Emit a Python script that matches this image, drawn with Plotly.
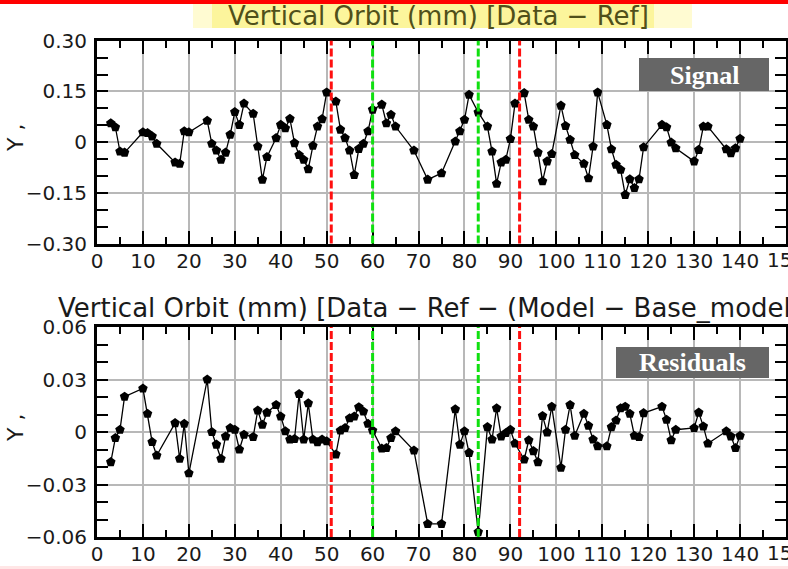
import plotly.graph_objects as go

W, H = 788, 569

bpm = [3, 4, 5, 6, 10, 11, 12, 13, 17, 18, 19, 20, 24, 25, 26, 27, 28, 29, 30, 31, 32,
       34, 35, 36, 37, 39, 40, 41, 42, 43, 44, 45, 46, 47, 48, 49, 50,
       52, 53, 54, 55, 56, 57, 58, 59, 60, 62, 63, 64, 65, 69,
       72, 75, 78, 79, 80, 81, 83, 85, 86, 87, 88, 89, 90, 91,
       93, 94, 95, 96, 97, 98, 99, 101, 102, 103, 104, 106, 107, 108, 109,
       111, 112, 113, 114, 115, 116, 117, 118, 119, 123, 124, 125, 126,
       130, 131, 132, 133, 137, 138, 139, 140]

signal = [0.056, 0.044, -0.028, -0.031, 0.029, 0.027, 0.017, -0.005,
          -0.060, -0.064, 0.032, 0.029,
          0.063, -0.005, -0.025, -0.052, -0.031, 0.022, 0.089, 0.051, 0.114,
          0.084, -0.013, -0.111, -0.044,
          0.012, 0.051, 0.041, 0.069, -0.003, -0.038, -0.052, -0.080, -0.011, 0.046, 0.068, 0.147,
          0.120, 0.037, 0.012, -0.025, -0.097, -0.020, -0.005, 0.032, 0.096,
          0.111, 0.056, 0.081, 0.046, -0.025,
          -0.111, -0.092, 0.002, 0.032, 0.066, 0.140,
          0.088, 0.046, -0.028, -0.123, -0.060, -0.052, 0.009, 0.114,
          0.145, 0.066, 0.046, -0.031, -0.116, -0.057, -0.035,
          0.108, 0.048, 0.007, -0.038,
          -0.064, -0.107, -0.013, 0.147,
          0.051, -0.021, -0.067, -0.082, -0.156, -0.110, -0.136, -0.110, -0.015,
          0.051, 0.044, -0.001, -0.018,
          -0.057, -0.023, 0.046, 0.046,
          -0.021, -0.033, -0.018, 0.010]

residuals = [-0.0172, -0.0034, 0.0013, 0.0202, 0.0249, 0.0104, -0.0057, -0.0134,
             0.0051, -0.0153, 0.0047, -0.0236,
             0.0300, 0.0, -0.0072, -0.0153, -0.0025, 0.0023, 0.0013, -0.0100, -0.0015,
             -0.0028, 0.0123, 0.0042, 0.0111,
             0.0155, 0.0089, 0.0004, -0.0043, -0.0040, 0.0217, -0.0043, 0.0164, -0.0043, -0.0058, -0.0043, -0.0053,
             -0.0128, 0.0009, 0.0023, 0.0079, 0.0089, 0.0142, 0.0117, 0.0047, 0.0009,
             -0.0094, -0.0091, -0.0034, 0.0004, -0.0106,
             -0.0525, -0.0525, 0.0130, -0.0072, 0.0004, -0.0119,
             -0.0572, 0.0028, -0.0043, 0.0136, -0.0025, -0.0006, 0.0013, -0.0066,
             -0.0157, -0.0047, -0.0109, -0.0172, 0.0092, -0.0002, 0.0145,
             -0.0204, 0.0013, 0.0155, -0.0021,
             0.0104, 0.0036, -0.0043, -0.0081,
             -0.0081, 0.0028, 0.0066, 0.0136, 0.0145, 0.0104, -0.0021, -0.0028, 0.0108,
             0.0145, 0.0070, -0.0047, 0.0013,
             0.0023, 0.0111, 0.0032, -0.0066,
             0.0004, -0.0025, -0.0091, -0.0021]

red_lines = [51, 92]
green_lines = [60, 83]

x_ticks = list(range(0, 151, 10))
x_tick_text = [str(v) for v in x_ticks]
top_y_ticks = [-0.30, -0.15, 0, 0.15, 0.30]
top_y_text = ["\u22120.30", "\u22120.15", "0", "0.15", "0.30"]
bot_y_ticks = [-0.06, -0.03, 0, 0.03, 0.06]
bot_y_text = ["\u22120.06", "\u22120.03", "0", "0.03", "0.06"]

title_top = "Vertical Orbit (mm) [Data \u2212 Ref]"
title_bot = "Vertical Orbit (mm) [Data \u2212 Ref \u2212 (Model \u2212 Base_model)]"


def px(x):
    return x / W


def py(y):
    return 1 - y / H


TICKFONT = dict(family="DejaVu Sans", size=20, color="#1a1a1a")

fig = go.Figure()
for ax, vals in (("", signal), ("2", residuals)):
    fig.add_trace(go.Scatter(
        x=bpm, y=vals, mode="lines+markers",
        xaxis="x" + ax, yaxis="y" + ax,
        line=dict(color="black", width=1.3),
        marker=dict(symbol="pentagon", size=10, color="black"),
        showlegend=False, hoverinfo="skip"))


def xaxis_def(anchor):
    return dict(
        domain=[px(97), px(786)], anchor=anchor, range=[0, 150],
        tickmode="array", tickvals=x_ticks, ticktext=x_tick_text,
        ticks="inside", ticklen=13, tickwidth=2, tickcolor="black",
        minor=dict(dtick=5, tick0=0, ticks="inside", ticklen=7, tickwidth=2,
                   tickcolor="black", showgrid=False),
        showline=True, linewidth=3, linecolor="black", mirror="ticks",
        showgrid=True, gridcolor="#b8b8b8", gridwidth=1.5,
        zeroline=False, tickfont=TICKFONT, ticklabelstandoff=-3, automargin=False)


def yaxis_def(anchor, domain, rng, tv, tt, minor_dtick):
    return dict(
        domain=domain, anchor=anchor, range=rng,
        tickmode="array", tickvals=tv, ticktext=tt,
        ticks="inside", ticklen=11, tickwidth=2, tickcolor="black",
        minor=dict(dtick=minor_dtick, tick0=0, ticks="inside", ticklen=11, tickwidth=2,
                   tickcolor="black", showgrid=False),
        showline=True, linewidth=3, linecolor="black", mirror="ticks",
        showgrid=True, gridcolor="#b8b8b8", gridwidth=1.5,
        zeroline=False, tickfont=TICKFONT, ticklabelstandoff=3, automargin=False)


top_dom = [py(243.5), py(40.7)]
bot_dom = [py(537), py(327)]

fig.update_layout(
    width=W, height=H,
    margin=dict(l=0, r=0, t=0, b=0, autoexpand=False),
    paper_bgcolor="white", plot_bgcolor="white",
    xaxis=xaxis_def("y"),
    yaxis=yaxis_def("x", top_dom, [-0.30, 0.30], top_y_ticks, top_y_text, 0.05),
    xaxis2=xaxis_def("y2"),
    yaxis2=yaxis_def("x2", bot_dom, [-0.06, 0.06], bot_y_ticks, bot_y_text, 0.01),
)

shapes = []
shapes.append(dict(type="rect", xref="paper", yref="paper", x0=0, x1=1, y0=py(4), y1=1,
                   fillcolor="#ff0000", line_width=0, layer="above"))
shapes.append(dict(type="rect", xref="paper", yref="paper", x0=0, x1=1, y0=0, y1=py(566),
                   fillcolor="#ffe6e6", line_width=0, layer="below"))
shapes.append(dict(type="rect", xref="paper", yref="paper", x0=px(193), x1=px(692),
                   y0=py(28), y1=py(4), fillcolor="#fffbd2", line_width=0, layer="below"))
shapes.append(dict(type="rect", xref="paper", yref="paper", x0=px(212), x1=px(654),
                   y0=py(28), y1=py(4), fillcolor="#fcf59c", line_width=0, layer="below"))

for xa, ya in (("x", "y"), ("x2", "y2")):
    for xv in red_lines:
        shapes.append(dict(type="line", xref=xa, yref=ya + " domain", x0=xv, x1=xv, y0=0, y1=1,
                           line=dict(color="#ff1010", width=3, dash="8px,3px"), layer="above"))
    for xv in green_lines:
        shapes.append(dict(type="line", xref=xa, yref=ya + " domain", x0=xv, x1=xv, y0=0, y1=1,
                           line=dict(color="#10e010", width=3, dash="8px,3px"), layer="above"))

shapes.append(dict(type="rect", xref="paper", yref="paper", x0=px(639), x1=px(769),
                   y0=py(91), y1=py(58), fillcolor="#666666", line_width=0, layer="above"))
shapes.append(dict(type="rect", xref="paper", yref="paper", x0=px(616), x1=px(769),
                   y0=py(378), y1=py(347), fillcolor="#666666", line_width=0, layer="above"))
fig.update_layout(shapes=shapes)

ann = []
ann.append(dict(text=title_top, xref="paper", yref="paper", x=px(226), y=py(16),
                xanchor="left", yanchor="middle", showarrow=False,
                font=dict(family="DejaVu Sans", size=26, color="#50501a")))
ann.append(dict(text=title_bot, xref="paper", yref="paper", x=px(56), y=py(308),
                xanchor="left", yanchor="middle", showarrow=False,
                font=dict(family="DejaVu Sans", size=26, color="#1a1a1a")))
ann.append(dict(text="<b>Signal</b>", xref="paper", yref="paper", x=px(704), y=py(75),
                xanchor="center", yanchor="middle", showarrow=False,
                font=dict(family="Liberation Serif", size=26, color="white")))
ann.append(dict(text="<b>Residuals</b>", xref="paper", yref="paper", x=px(692), y=py(363),
                xanchor="center", yanchor="middle", showarrow=False,
                font=dict(family="Liberation Serif", size=26, color="white")))
for yc in (138, 428):
    ann.append(dict(text="Y ,", xref="paper", yref="paper", x=px(15), y=py(yc),
                    xanchor="center", yanchor="middle", showarrow=False, textangle=-90,
                    font=dict(family="DejaVu Sans", size=22, color="#1a1a1a")))
# "150" labels at the right edge (partly cut by the page edge, as in the reference)
for ya, yv in (("y", -0.30), ("y2", -0.06)):
    ann.append(dict(text="150", xref="x" if ya == "y" else "x2", yref=ya, x=150, y=yv,
                    xanchor="center", yanchor="top", yshift=-2, showarrow=False,
                    font=TICKFONT))
fig.update_layout(annotations=ann)

fig.write_html("out.html")
